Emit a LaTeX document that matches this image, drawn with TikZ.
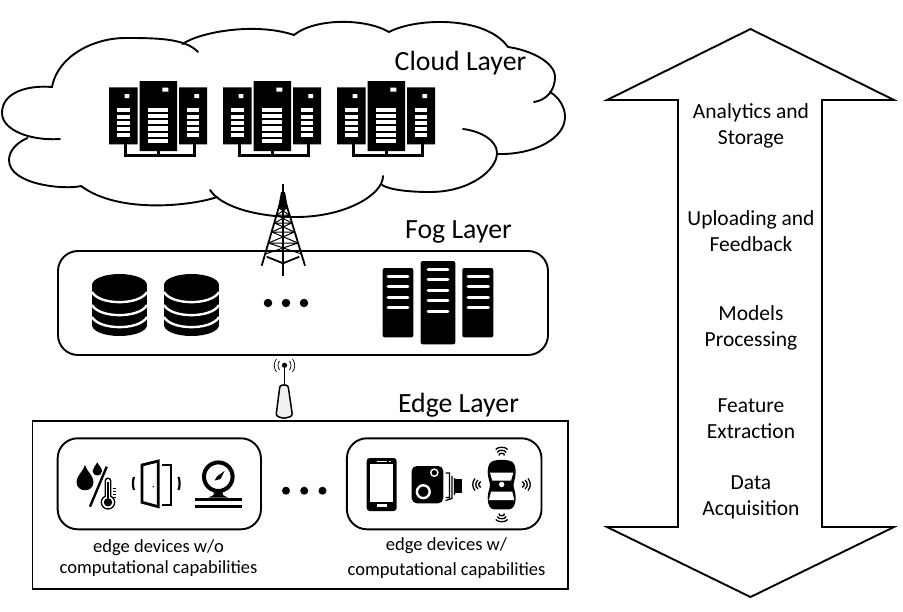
\documentclass[tikz,border=0pt]{standalone}
\usepackage{fontspec}
\setmainfont{Carlito}
\usepackage{tikz}

\tikzset{
    layerlabel/.style={font=\fontsize{27.8}{28}\selectfont, inner sep=0pt},
    steplabel/.style={font=\fontsize{21.5}{26}\selectfont, align=center, inner sep=0pt},
    devlabel/.style={font=\fontsize{18.5}{21}\selectfont, align=center, inner sep=0pt},
    outline/.style={line width=1.9pt, line cap=round},
    panel/.style={draw, line width=1.9pt, rounded corners=20pt},
    dot/.style={circle, fill=black, inner sep=0pt, minimum size=8.5pt},
    rack/.pic={
        \fill (0,6.3) rectangle (28.7,63.3) (30.7,0) rectangle (68,70) (70,6.3) rectangle (98,63.3);
        \fill[white] (15.7,13) rectangle (20.3,17) (53.3,6.7) rectangle (59.3,10.7) (85.3,13) rectangle (90,17);
        \foreach \n in {0,...,4} {
            \fill[white] (8,27.3+6.2*\n) rectangle (20.7,31.3+6.2*\n);
            \fill[white] (78,27.3+6.2*\n) rectangle (90,31.3+6.2*\n);
        }
        \foreach \n in {0,...,5}
            \fill[white] (39.3,26.7+6.2*\n) rectangle (59.3,31+6.2*\n);
        \draw[line width=3pt] (16,63) -- (16,74.5) -- (85.3,74.5) -- (85.3,63) (49,70) -- (49,74.5);
    },
    dbase/.pic={
        \fill (0,0) ellipse [x radius=27.5, y radius=11];
        \fill (-27.5,0) rectangle (27.5,40);
        \fill (0,40) ellipse [x radius=27.5, y radius=11];
        \foreach \y in {7,20,32}
            \draw[white, line width=2.4pt] (-27.5,\y) .. controls (-20,\y+13.5) and (20,\y+13.5) .. (27.5,\y);
    },
}

\begin{document}
\begin{tikzpicture}[x=1pt, y=-1pt]
    \useasboundingbox (0,0) rectangle (903,611);

    \draw[outline] (60,139) .. controls (30,141) and (2,130) .. (2,113)
        .. controls (2,92) and (28,85) .. (52,87)
        .. controls (58,55) and (95,38) .. (125,38)
        .. controls (155,38) and (185,38) .. (198,52);
    \draw[outline] (182.5,44) .. controls (200,32) and (255,22) .. (294,35)
        .. controls (315,18) and (365,18) .. (389,32)
        .. controls (415,18) and (485,15) .. (508,47)
        .. controls (530,50) and (555,62) .. (555,77)
        .. controls (555,90) and (547,100) .. (534,102);
    \draw[outline] (550,92) .. controls (560,98) and (565,108) .. (565,117)
        .. controls (565,138) and (535,155) .. (497,154);
    \draw[outline] (463,129) .. controls (480,131) and (497,140) .. (497,153)
        .. controls (497,170) and (470,192) .. (430,192)
        .. controls (410,192) and (390,190) .. (382,185);
    \draw[outline] (383,176) .. controls (383,195) and (345,217) .. (296,217)
        .. controls (260,217) and (222,208) .. (210,190);
    \draw[outline] (217,197) .. controls (195,205) and (120,215) .. (81,186)
        .. controls (65,190) and (9,185) .. (9,160)
        .. controls (9,150) and (18,142) .. (27.5,138);

    \pic at (109,81) {rack};
    \pic at (223,81) {rack};
    \pic at (337,81) {rack};
    \node[layerlabel] (cloud) at (460.5,63.5) {Cloud Layer};

    \node[layerlabel] (fog) at (458.5,231.5) {Fog Layer};
    \node[panel, minimum width=490pt, minimum height=104pt] (fogbox) at (303,303) {};
    \pic at (119.5,285) {dbase};
    \pic at (191.5,285) {dbase};
    \node[dot] (foga) at (268,303) {};
    \node[dot] (fogb) at (286,303) {};
    \node[dot] (fogc) at (304,303) {};
    \fill[rounded corners=2pt] (382.7,268) rectangle (413.3,337.3);
    \fill[rounded corners=2pt] (420.7,261) rectangle (455.3,344.3);
    \fill[rounded corners=2pt] (462.3,268) rectangle (493.3,337.3);
    \foreach \y in {276.3,286.7,297.3,307.7}
        \draw[white, line width=2.6pt, line cap=round] (388,\y) -- (408,\y) (468,\y) -- (488.5,\y);
    \foreach \y in {269.3,279.7,290.3,300.7,311.3}
        \draw[white, line width=2.6pt, line cap=round] (428,\y) -- (448,\y);

    \draw[line width=2pt] (283,184) -- (283,276);
    \fill (281,192) -- (285,192) -- (288,208) -- (278,208) -- cycle;
    \draw[line width=1.8pt] (279.5,205) -- (261.7,265.7) (286.5,205) -- (305,265.7)
        (266.7,256.7) -- (283,263.3) -- (299.3,256.7);
    \foreach \ya/\yb in {208/215,215/223,223/232,232/243,243/254} {
        \pgfmathsetmacro{\xla}{280-0.3015*(\ya-205)}
        \pgfmathsetmacro{\xlb}{280-0.3015*(\yb-205)}
        \pgfmathsetmacro{\xra}{286+0.313*(\ya-205)}
        \pgfmathsetmacro{\xrb}{286+0.313*(\yb-205)}
        \draw[line width=1pt] (\xla,\ya) -- (\xrb,\yb) (\xra,\ya) -- (\xlb,\yb) (\xla,\ya) -- (\xra,\ya);
    }

    \draw[line width=1.5pt, fill=black!6, rounded corners=2.5pt] (280,385) -- (288,385) -- (292.5,416) -- (284,418.5) -- (276,416) -- cycle;
    \draw[line width=1.2pt] (284.5,367) -- (284.5,385);
    \fill (284.5,365.3) circle (2.6pt);
    \draw[line width=.7pt] (279.5,361) .. controls (277.5,364) and (277.5,367) .. (279.5,370)
        (289.5,361) .. controls (291.5,364) and (291.5,367) .. (289.5,370)
        (276.5,359) .. controls (273.5,363) and (273.5,368) .. (276.5,372)
        (292.5,359) .. controls (295.5,363) and (295.5,368) .. (292.5,372);

    \node[layerlabel] (edge) at (458.5,405.5) {Edge Layer};
    \draw[line width=1.9pt] (32.5,420.7) rectangle (567.7,589);
    \node[panel, minimum width=203.3pt, minimum height=91pt] (nocomp) at (159.3,483.8) {};
    \node[panel, minimum width=194.6pt, minimum height=91pt] (comp) at (444.2,483.8) {};
    \node[dot, minimum size=8pt] (edgea) at (286,490.7) {};
    \node[dot, minimum size=8pt] (edgeb) at (304.2,490.7) {};
    \node[dot, minimum size=8pt] (edgec) at (322.5,490.7) {};
    \node[devlabel] (nocomptext) at (158.5,558.5) {edge devices w/o\\computational capabilities};
    \node[devlabel, font=\fontsize{18.5}{25}\selectfont] (comptext) at (446.5,558.5) {edge devices w/\\computational capabilities};

    \fill (85,465) .. controls (82,473) and (76.5,476) .. (76.5,482) .. controls (76.5,493) and (93.5,493) .. (93.5,482) .. controls (93.5,476) and (88,473) .. (85,465);
    \fill (97.3,462.3) .. controls (95.5,466) and (92.6,468) .. (92.6,471) .. controls (92.6,477) and (102,477) .. (102,471) .. controls (102,468) and (99,466) .. (97.3,462.3);
    \draw[line width=2.4pt] (106.7,466.7) -- (90,506.7);
    \draw[line width=1.3pt, fill=white, rounded corners=2.5pt] (105.3,478.3) rectangle (110.7,500);
    \draw[line width=1.3pt, fill=white] (108,502.3) circle (6.7pt);
    \fill[white] (106,495) rectangle (110,500);
    \fill (106.6,482) rectangle (109.4,500);
    \fill (108,502.3) circle (4.2pt);
    \foreach \y in {488,491,494,497}
        \draw[line width=.4pt] (113,\y) -- (116,\y);

    \draw[line width=2.8pt, line join=miter] (142,465) -- (158.3,461) -- (158.3,506.7) -- (142,502.3) -- cycle;
    \draw[line width=2.4pt] (161.7,465) -- (171,465) -- (171,505) -- (161.7,505);
    \fill (153.3,486.7) circle (.8pt);
    \draw[line width=2.2pt] (134,477) .. controls (132.5,481) and (132.5,486) .. (134,490)
        (178.5,477) .. controls (180,481) and (180,486) .. (178.5,490);

    \draw[line width=4pt] (218.3,476.7) circle (14.3pt);
    \fill (214.5,480.5) -- (217,476.5) -- (224.5,471) -- (220.5,479) -- cycle;
    \fill (214,491) -- (222.5,491) -- (223,495) -- (228,497.5) -- (208.5,497.5) -- (213.5,495) -- cycle;
    \draw[line width=3pt] (195,499) -- (242.3,499) (195,506.7) -- (242.3,506.7);

    \fill[rounded corners=3pt] (366.7,458) rectangle (396.7,511);
    \fill[white] (370,464) rectangle (393.3,501.7);
    \fill[white] (376.7,504) rectangle (386.7,507.3);
    \draw[white, line width=.8pt] (376.7,461) -- (386.7,461) (389,461) -- (391,461);

    \fill[rounded corners=5pt] (411.7,466) rectangle (443.3,503.3);
    \draw[white, line width=1.4pt] (434.3,472.7) circle (3.6pt);
    \draw[white, line width=2.4pt] (423.3,491.7) circle (6.4pt);
    \fill (454,478.5) rectangle (462.3,493);
    \draw[line width=1.2pt] (445.5,473) -- (449.5,473) -- (449.5,497.5) -- (445.5,497.5)
        (452,476) -- (452,498.5) -- (445.5,500.5)
        (454.5,478) -- (454.5,495);

    \fill (494,460.7) .. controls (498,459.5) and (505,459.5) .. (509.5,460.7)
        .. controls (514,461.5) and (515.7,466) .. (515.7,472)
        .. controls (515.7,478) and (513.5,482) .. (513.5,485)
        .. controls (513.5,488) and (515.7,492) .. (515.7,498)
        .. controls (515.7,505) and (513,509.3) .. (509,509.3)
        -- (494,509.3) .. controls (490,509.3) and (487.7,505) .. (487.7,498)
        .. controls (487.7,492) and (490,488) .. (490,485)
        .. controls (490,482) and (487.7,478) .. (487.7,472)
        .. controls (487.7,466) and (489.5,461.5) .. (494,460.7) -- cycle;
    \fill[white] (490,472.7) -- (513.3,472.7) -- (511,480.7) -- (492.3,480.7) -- cycle;
    \fill[white] (491,491.7) -- (512.3,491.7) -- (514.3,500) -- (489,500) -- cycle;
    \fill[white] (501.7,484.5) circle (2.7pt);
    \foreach \d in {0,3,6} {
        \draw[line width=1.3pt] (495.7+\d*.55,449.5+\d) .. controls (498,446.5+\d) and (505.4,446.5+\d) .. (507.7-\d*.55,449.5+\d);
        \draw[line width=1.3pt] (495.7+\d*.55,519.5-\d) .. controls (498,522.5-\d) and (505.4,522.5-\d) .. (507.7-\d*.55,519.5-\d);
        \draw[line width=1.3pt] (475+\d,478.5+\d*.55) .. controls (472+\d,482) and (472+\d,487) .. (475+\d,490.5-\d*.55);
        \draw[line width=1.3pt] (528-\d,478.5+\d*.55) .. controls (531-\d,482) and (531-\d,487) .. (528-\d,490.5-\d*.55);
    }

    \draw[line width=1.9pt, line join=miter] (750.5,29) -- (894,100) -- (822,100) -- (822,527) -- (894,527) -- (750.5,597) -- (607,527) -- (678,527) -- (678,100) -- (607,100) -- cycle;
    \node[steplabel] (analytics) at (751,126) {Analytics and\\Storage};
    \node[steplabel] (uploading) at (751,231) {Uploading and\\Feedback};
    \node[steplabel] (models) at (751,327.5) {Models\\Processing};
    \node[steplabel] (feature) at (751,418.5) {Feature\\Extraction};
    \node[steplabel] (data) at (751,497.5) {Data\\Acquisition};
\end{tikzpicture}
\end{document}
